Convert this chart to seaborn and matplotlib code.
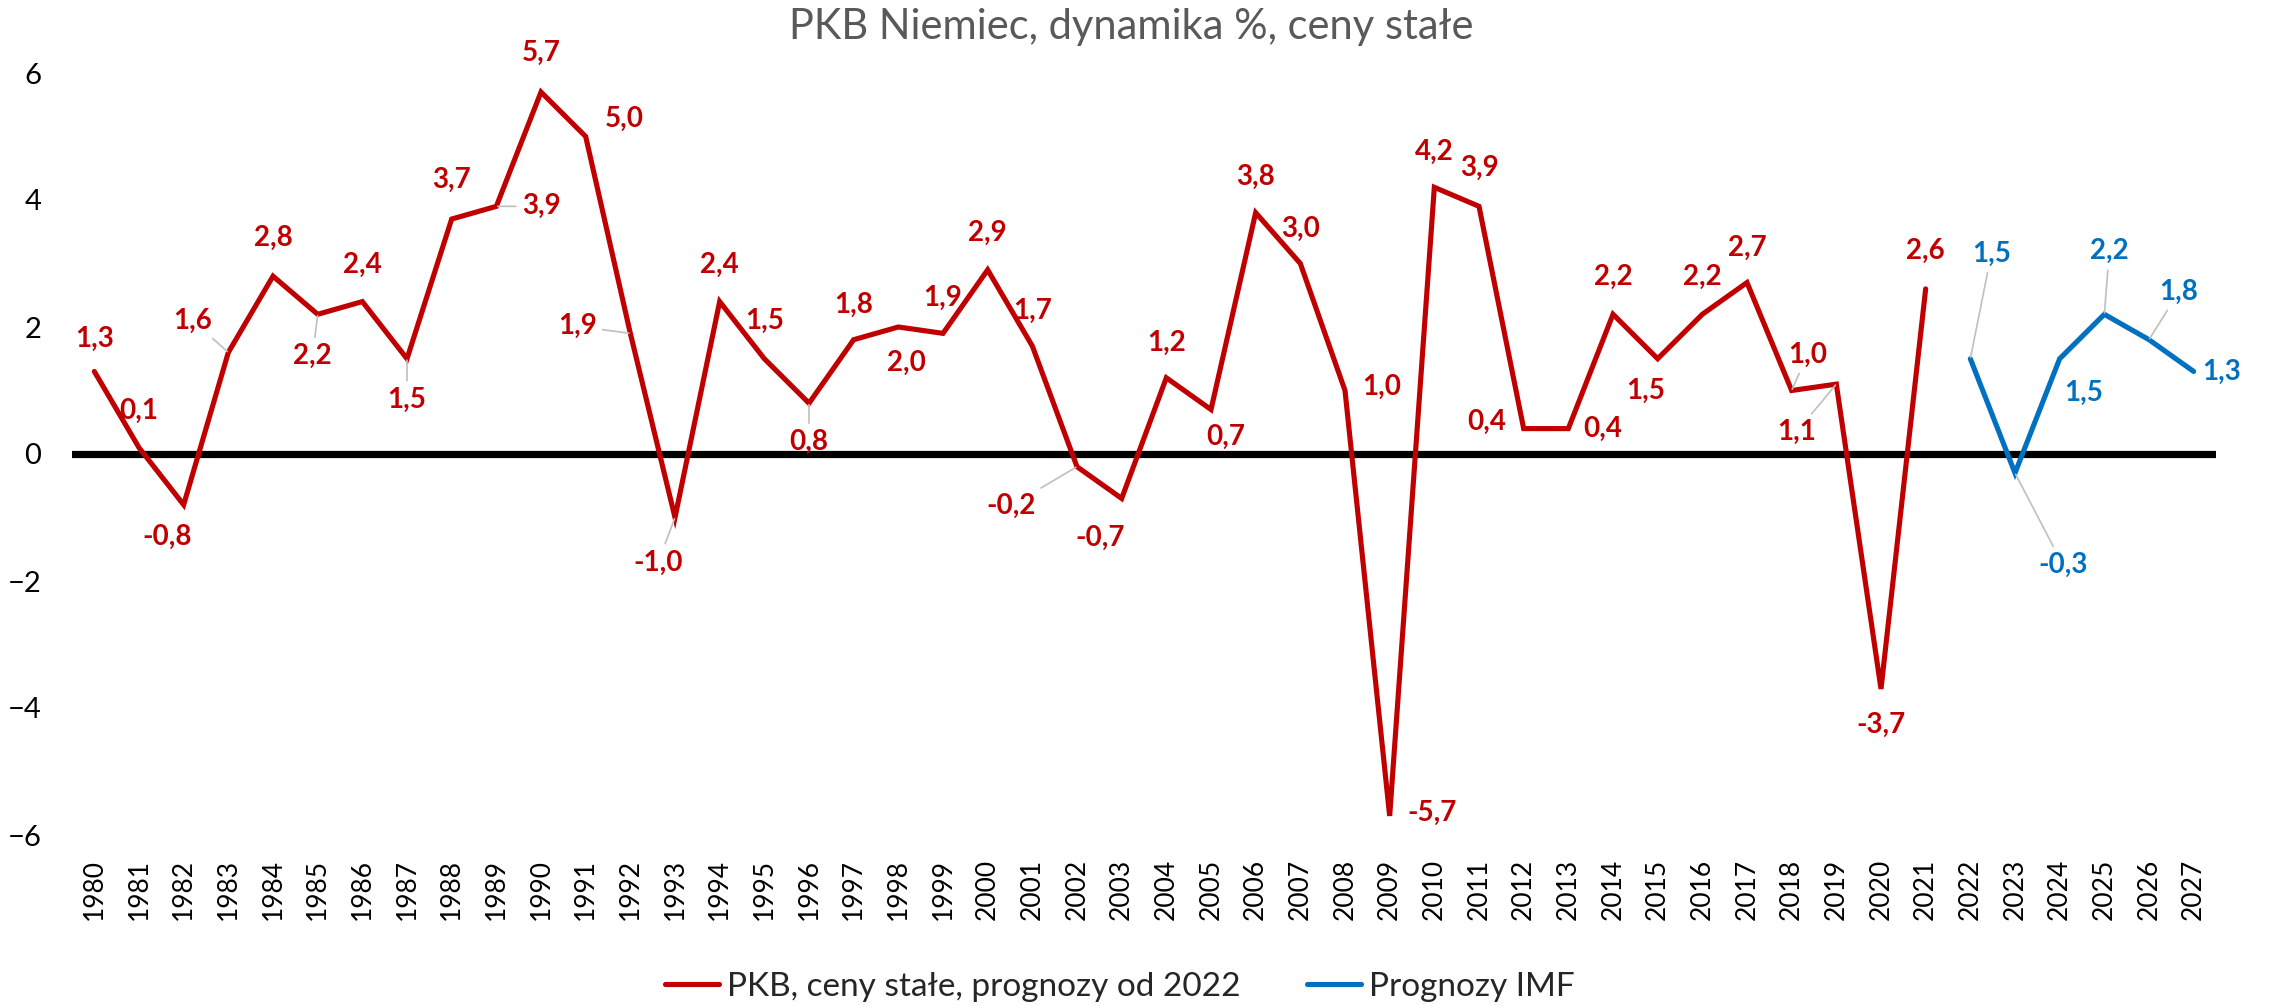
import matplotlib
matplotlib.use("Agg")
import matplotlib.pyplot as plt
import seaborn as sns
import pandas as pd

# ---- data ----
years_hist = list(range(1980, 2022))
gdp_hist = [1.3, 0.1, -0.8, 1.6, 2.8, 2.2, 2.4, 1.5, 3.7, 3.9,
            5.7, 5.0, 1.9, -1.0, 2.4, 1.5, 0.8, 1.8, 2.0, 1.9,
            2.9, 1.7, -0.2, -0.7, 1.2, 0.7, 3.8, 3.0, 1.0, -5.7,
            4.2, 3.9, 0.4, 0.4, 2.2, 1.5, 2.2, 2.7, 1.0, 1.1,
            -3.7, 2.6]
years_imf = list(range(2022, 2028))
gdp_imf = [1.5, -0.3, 1.5, 2.2, 1.8, 1.3]
all_years = years_hist + years_imf

title = "PKB Niemiec, dynamika %, ceny stałe"
label_hist = "PKB, ceny stałe, prognozy od 2022"
label_imf = "Prognozy IMF"

RED = "#C00000"
BLUE = "#0070C0"

# label offsets in pixels (dx right, dy down) and leader flag
off_hist = {
    1980: (0, -33, 0), 1981: (0, -37, 0), 1982: (-17, 32, 0), 1983: (-36, -32, 1),
    1984: (0, -38, 0), 1985: (-5, 42, 1), 1986: (0, -37, 0), 1987: (0, 41, 1),
    1988: (0, -39, 0), 1989: (45, 0, 1), 1990: (0, -39, 0), 1991: (39, -18, 0),
    1992: (-53, -7, 1), 1993: (-17, 45, 1), 1994: (0, -37, 0), 1995: (0, -38, 0),
    1996: (0, 39, 1), 1997: (0, -35, 0), 1998: (8, 36, 0), 1999: (0, -35, 0),
    2000: (0, -37, 0), 2001: (0, -35, 0), 2002: (-66, 39, 1), 2003: (-22, 39, 0),
    2004: (0, -35, 0), 2005: (15, 27, 0), 2006: (0, -36, 0), 2007: (0, -35, 0),
    2008: (37, -4, 0), 2009: (42, -3, 0), 2010: (0, -35, 0), 2011: (0, -38, 0),
    2012: (-37, -7, 0), 2013: (34, 0, 0), 2014: (0, -37, 0), 2015: (-12, 32, 0),
    2016: (0, -37, 0), 2017: (0, -35, 0), 2018: (16, -36, 1), 2019: (-40, 48, 1),
    2020: (0, 36, 0), 2021: (0, -38, 0),
}
off_imf = {
    2022: (21, -105, 1), 2023: (48, 92, 1), 2024: (24, 34, 0),
    2025: (5, -63, 1), 2026: (30, -48, 1), 2027: (28, 0, 0),
}

sns.set_theme(style="white")
plt.rcParams["font.family"] = ["Lato", "DejaVu Sans"]

W, H = 2269, 1006
fig = plt.figure(figsize=(W / 100, H / 100), dpi=100)
ax = fig.add_axes([72 / W, 1 - 835 / H, (2216 - 72) / W, (835 - 73) / H])

df_hist = pd.DataFrame({"year": years_hist, "val": gdp_hist})
df_imf = pd.DataFrame({"year": years_imf, "val": gdp_imf})

ax.axhline(0, color="black", lw=5.2, zorder=1)
sns.lineplot(data=df_hist, x="year", y="val", ax=ax, color=RED, lw=3.7,
             label=label_hist, zorder=3, solid_capstyle="round",
             solid_joinstyle="miter")
sns.lineplot(data=df_imf, x="year", y="val", ax=ax, color=BLUE, lw=3.7,
             label=label_imf, zorder=3, solid_capstyle="round",
             solid_joinstyle="miter")

ax.set_xlim(1979.5, 2027.5)
ax.set_ylim(-6, 6)
ax.set_yticks([-6, -4, -2, 0, 2, 4, 6])
ax.set_xticks(all_years)
ax.set_xticklabels([str(y) for y in all_years], rotation=90)
ax.tick_params(axis="x", length=0, pad=17, labelsize=19, colors="black")
ax.tick_params(axis="y", length=0, pad=22, labelsize=21, colors="black")
for s in ax.spines.values():
    s.set_visible(False)
ax.set_xlabel("")
ax.set_ylabel("")
ax.grid(False)


def fmt(v):
    return f"{v:.1f}".replace(".", ",")


def annotate(years, vals, offs, color):
    for y, v in zip(years, vals):
        dx, dy, lead = offs[y]
        kw = {}
        if lead:
            kw["arrowprops"] = dict(arrowstyle="-", color="#BFBFBF", lw=1.2,
                                    shrinkA=2, shrinkB=1)
        ax.annotate(fmt(v), xy=(y, v), xytext=(dx, -dy),
                    textcoords="offset pixels", ha="center", va="center",
                    fontsize=20, fontweight="bold", color=color, zorder=5, **kw)


annotate(years_hist, gdp_hist, off_hist, RED)
annotate(years_imf, gdp_imf, off_imf, BLUE)

fig.text(1131 / W, 1 - 27 / H, title, ha="center", va="center",
         fontsize=30, color="#595959")

ax.get_legend().remove()
handles, labels = ax.get_legend_handles_labels()
fig.legend(handles, labels, loc="center", bbox_to_anchor=(1120 / W, 1 - 987 / H),
           ncol=2, frameon=False, fontsize=24, handlelength=1.6,
           handletextpad=0.25, columnspacing=2.0)

fig.savefig("out.png", dpi=100)
